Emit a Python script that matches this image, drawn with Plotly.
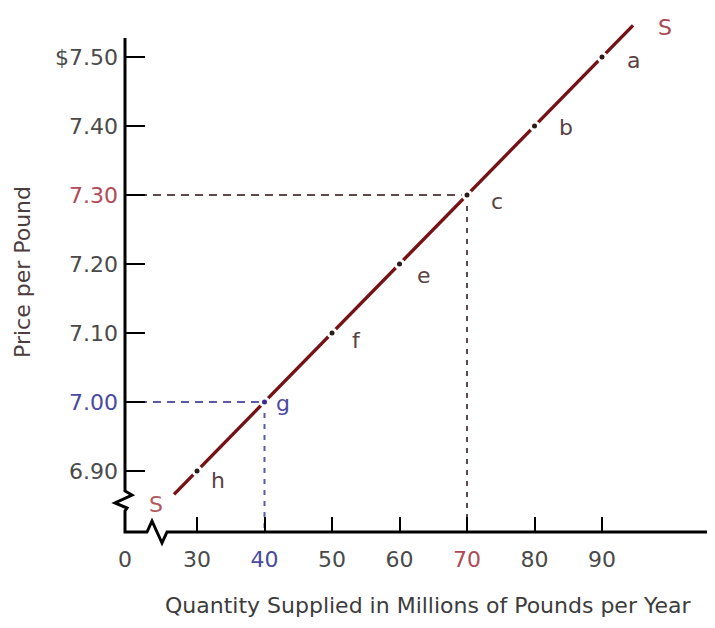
import plotly.graph_objects as go

# ---- data ----
quantity = [30, 40, 50, 60, 70, 80, 90]
price = [6.90, 7.00, 7.10, 7.20, 7.30, 7.40, 7.50]
point_labels = ["h", "g", "f", "e", "c", "b", "a"]
supply_ends_q = [26.6, 94.6]
supply_ends_p = [6.866, 7.546]
x_tick_vals = [30, 40, 50, 60, 70, 80, 90]
x_tick_text = ["30", "40", "50", "60", "70", "80", "90"]
y_tick_vals = [6.90, 7.00, 7.10, 7.20, 7.30, 7.40, 7.50]
y_tick_text = ["6.90", "7.00", "7.10", "7.20", "7.30", "7.40", "$7.50"]
blue_point = (40, 7.00)
red_point = (70, 7.30)

# ---- layout geometry (page has an 8px body margin) ----
OFF = 8
W, H = 715 - OFF, 628 - OFF
ML, MR, MT, MB = 125 - OFF, 0, 0, 96
PW, PH = W - ML - MR, H - MT - MB
X_RANGE = [19.333, 106.74]
Y_RANGE = [6.8114, 7.50 + (57 - OFF) / 688.3]

FONT = "DejaVu Sans"
RED_TXT = "#b04a58"
BLUE_TXT = "#4a4aa0"
GRAY_TXT = "#4a4a4a"
LABEL_TXT = "#5a4242"
LINE_COL = "#741215"
FS = 22


def color_span(txt, val, blue_val, red_val):
    if abs(val - blue_val) < 1e-9:
        return f"<span style='color:{BLUE_TXT}'>{txt}</span>"
    if abs(val - red_val) < 1e-9:
        return f"<span style='color:{RED_TXT}'>{txt}</span>"
    return txt


x_labels = ["0"] + [color_span(t, v, blue_point[0], red_point[0]) for t, v in zip(x_tick_text, x_tick_vals)]
x_vals = [X_RANGE[0]] + x_tick_vals
y_labels = [color_span(t, v, blue_point[1], red_point[1]) for t, v in zip(y_tick_text, y_tick_vals)]


def px2paper(px, py):
    # reference-screen pixel -> paper coords
    return (px - OFF - ML) / PW, (H - MB - (py - OFF)) / PH


fig = go.Figure()

# dashed guide lines
fig.add_trace(go.Scatter(x=[X_RANGE[0], red_point[0]], y=[red_point[1], red_point[1]], mode="lines",
                         line=dict(color="#5e4a4a", width=2, dash="8px,6px"), hoverinfo="skip"))
fig.add_trace(go.Scatter(x=[red_point[0], red_point[0]], y=[red_point[1], Y_RANGE[0]], mode="lines",
                         line=dict(color="#5e4a4a", width=2, dash="5px,6px"), hoverinfo="skip"))
fig.add_trace(go.Scatter(x=[X_RANGE[0], blue_point[0]], y=[blue_point[1], blue_point[1]], mode="lines",
                         line=dict(color="#5a5aa6", width=2, dash="8px,6px"), hoverinfo="skip"))
fig.add_trace(go.Scatter(x=[blue_point[0], blue_point[0]], y=[blue_point[1], Y_RANGE[0]], mode="lines",
                         line=dict(color="#5a5aa6", width=2, dash="5px,6px"), hoverinfo="skip"))

# supply line
fig.add_trace(go.Scatter(x=[supply_ends_q[0]] + quantity + [supply_ends_q[1]],
                         y=[supply_ends_p[0]] + price + [supply_ends_p[1]],
                         mode="lines", line=dict(color=LINE_COL, width=3.4), hoverinfo="skip"))
# gaps around points
fig.add_trace(go.Scatter(x=quantity, y=price, mode="markers",
                         marker=dict(color="white", size=11, line=dict(width=0)), hoverinfo="skip"))
# dots
dot_colors = ["#2a1a1a" if q != blue_point[0] else "#3a2a9a" for q in quantity]
fig.add_trace(go.Scatter(x=quantity, y=price, mode="markers",
                         marker=dict(color=dot_colors, size=5, line=dict(width=0)), hoverinfo="skip"))

# point labels
label_offsets = {"a": (31, -3), "b": (31, -1), "c": (30, -6), "e": (24, -11),
                 "f": (24, -8), "g": (18, -2), "h": (21, -10)}
annotations = []
for q, p, lab in zip(quantity, price, point_labels):
    dx, dy = label_offsets[lab]
    col = BLUE_TXT if lab == "g" else LABEL_TXT
    annotations.append(dict(x=q, y=p, xref="x", yref="y", text=lab, showarrow=False,
                            xshift=dx, yshift=dy, font=dict(family=FONT, size=FS, color=col)))
# S labels
annotations.append(dict(x=supply_ends_q[1], y=supply_ends_p[1], xref="x", yref="y", text="S",
                        showarrow=False, xshift=32, yshift=-2,
                        font=dict(family=FONT, size=FS, color="#a84a50")))
annotations.append(dict(x=supply_ends_q[0], y=supply_ends_p[0], xref="x", yref="y", text="S",
                        showarrow=False, xshift=-18, yshift=-10,
                        font=dict(family=FONT, size=FS, color="#b05a60")))
# axis titles
tx, ty = px2paper(22, 272)
annotations.append(dict(x=tx, y=ty, xref="paper", yref="paper", text="Price per Pound",
                        textangle=-90, showarrow=False, xanchor="center", yanchor="middle",
                        font=dict(family=FONT, size=FS, color="#4d3c3c")))
tx, ty = px2paper(428, 605)
annotations.append(dict(x=tx, y=ty, xref="paper", yref="paper",
                        text="Quantity Supplied in Millions of Pounds per Year",
                        showarrow=False, xanchor="center", yanchor="middle",
                        font=dict(family=FONT, size=FS, color="#3c3c3c")))

# axis lines with break marks (reference pixel geometry)
axis_px = [(125, 38), (125, 491), (132, 495), (115, 503), (127, 508), (125, 511), (125, 532),
           (147, 532), (152, 521), (162, 543), (167, 532), (715, 532)]
pts = [px2paper(a, b) for a, b in axis_px]
path = "M " + " L ".join(f"{a:.5f},{b:.5f}" for a, b in pts)
shapes = [dict(type="path", path=path, xref="paper", yref="paper",
               line=dict(color="black", width=3), layer="above")]

fig.update_layout(
    width=W, height=H,
    margin=dict(l=ML, r=MR, t=MT, b=MB),
    paper_bgcolor="white", plot_bgcolor="white",
    showlegend=False,
    annotations=annotations,
    shapes=shapes,
    xaxis=dict(range=X_RANGE, showgrid=False, zeroline=False, showline=False,
               tickmode="array", tickvals=x_vals, ticktext=x_labels,
               ticks="inside", ticklen=15, tickwidth=1.5, tickcolor="black",
               ticklabelstandoff=12,
               tickfont=dict(family=FONT, size=FS, color=GRAY_TXT)),
    yaxis=dict(range=Y_RANGE, showgrid=False, zeroline=False, showline=False,
               tickmode="array", tickvals=y_tick_vals, ticktext=y_labels,
               ticks="inside", ticklen=20, tickwidth=2, tickcolor="black",
               ticklabelstandoff=6,
               tickfont=dict(family=FONT, size=FS, color=GRAY_TXT)),
)

fig.write_html("out.html")
